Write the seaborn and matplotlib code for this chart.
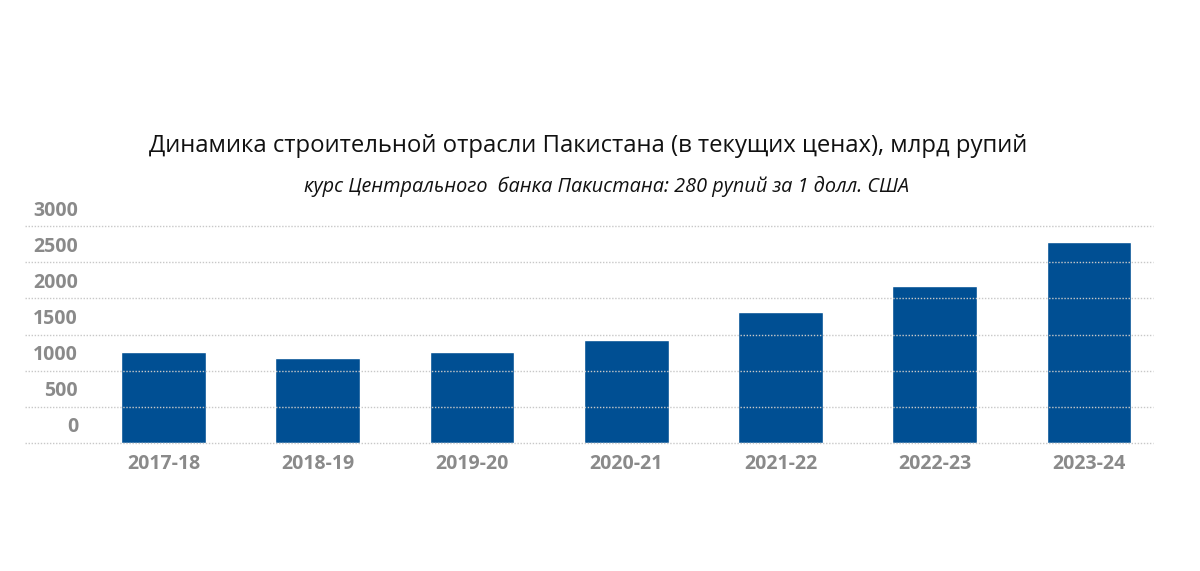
import matplotlib
matplotlib.use("Agg")
import matplotlib.pyplot as plt
import matplotlib.transforms as mtransforms
from matplotlib import font_manager as fm
import seaborn as sns
import pandas as pd

years = ["2017-18", "2018-19", "2019-20", "2020-21", "2021-22", "2022-23", "2023-24"]
values = [1258, 1175, 1258, 1429, 1816, 2166, 2783]
yticks = [0, 500, 1000, 1500, 2000, 2500, 3000]
title = "Динамика строительной отрасли Пакистана (в текущих ценах), млрд рупий"
subtitle = "курс Центрального  банка Пакистана: 280 рупий за 1 долл. США"


def font_file(fname, fallback_weight, fallback_style):
    for f in fm.fontManager.ttflist:
        if f.fname.split("/")[-1] == fname:
            return fm.FontProperties(fname=f.fname)
    return fm.FontProperties(family=["Open Sans", "DejaVu Sans"], weight=fallback_weight,
                             style=fallback_style)


fp_reg = font_file("OpenSans-Regular.ttf", "normal", "normal")
fp_it = font_file("OpenSans-Italic.ttf", "normal", "italic")
fp_bold = font_file("OpenSans-Bold.ttf", "bold", "normal")

sns.set_style("white")
plt.rcParams["font.family"] = ["Open Sans", "DejaVu Sans"]

W, H = 1200, 571
fig = plt.figure(figsize=(W / 100, H / 100), dpi=100)
ax = fig.add_axes([25 / W, 1 - 443 / H, (1153 - 25) / W, (443 - 226) / H])

df = pd.DataFrame({"year": years, "value": values})
sns.barplot(data=df, x="year", y="value", color="#004f93", width=0.55,
            saturation=1, ax=ax, zorder=1)

ax.set_xlim(-0.898, 6.415)
ax.set_ylim(0, 3000)
ax.set_yticks(yticks)
ax.set_yticklabels([str(v) for v in yticks])
ax.set_xlabel("")
ax.set_ylabel("")
for s in ax.spines.values():
    s.set_visible(False)

ax.set_axisbelow(False)
ax.yaxis.grid(True, color="#c8c8c8", linestyle=(0, (1, 1.2)), linewidth=1, zorder=3, clip_on=False)
ax.xaxis.grid(False)

ax.tick_params(axis="x", length=0, pad=8, labelcolor="#8a8a8a")
ax.tick_params(axis="y", length=0, pad=-38.2, labelcolor="#8a8a8a")
for lab in ax.get_xticklabels():
    lab.set_fontproperties(fp_bold)
    lab.set_fontsize(14)
offset = mtransforms.ScaledTranslation(0, 18 / 100, fig.dpi_scale_trans)
for lab in ax.get_yticklabels():
    lab.set_fontproperties(fp_bold)
    lab.set_fontsize(14)
    lab.set_horizontalalignment("right")
    lab.set_transform(lab.get_transform() + offset)

t = fig.text(588 / W, 1 - 146 / H, title, ha="center", va="center", color="#111111",
             fontproperties=fp_reg)
t.set_fontsize(17.2)
st = fig.text(606 / W, 1 - 186 / H, subtitle, ha="center", va="center", color="#111111",
              fontproperties=fp_it)
st.set_fontsize(14.3)

fig.savefig("out.png", dpi=100, facecolor="white")
